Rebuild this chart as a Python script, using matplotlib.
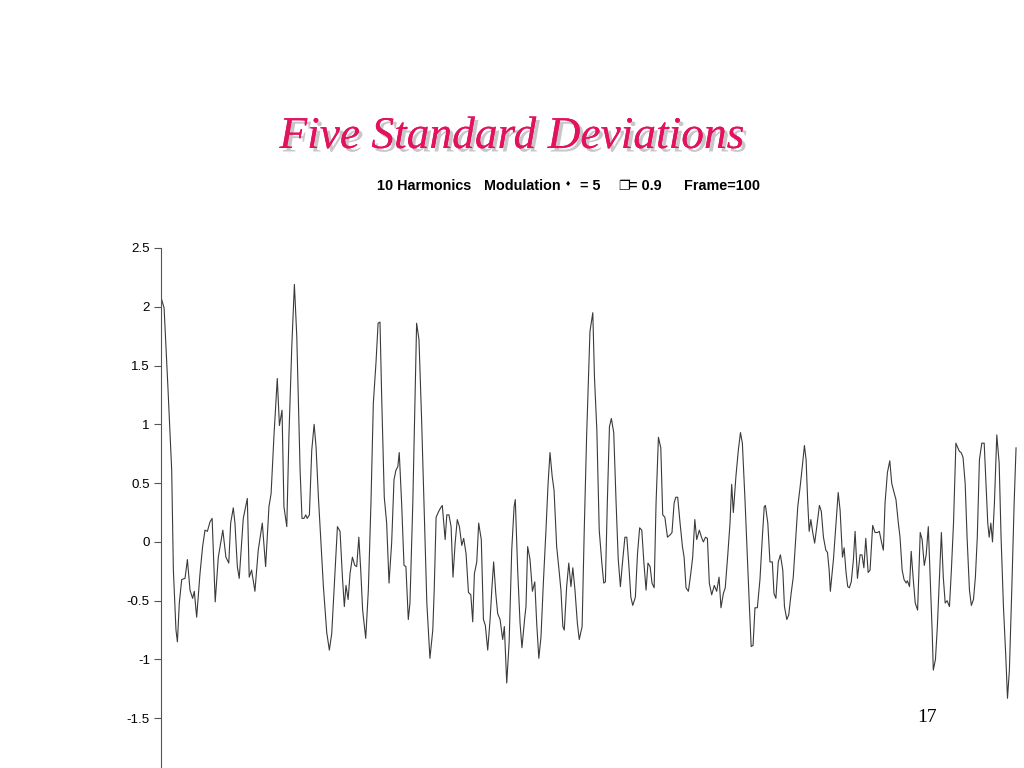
import matplotlib
matplotlib.use("Agg")
import matplotlib.pyplot as plt
import matplotlib.patheffects as pe

# sample positions (sample index) and signal values
t = [0.3, 1.3, 2.9, 4.5, 5.2, 6.3, 6.9, 7.7, 8.7, 10.1, 11.1, 12.2, 13.3, 14.0, 15.0,
     16.4, 17.5, 18.5, 19.5, 20.6, 21.5, 22.8, 24.1, 26.0, 27.3, 28.5, 29.3, 30.4, 31.1,
     32.1, 32.9, 34.6, 36.3, 37.1, 38.1, 39.5, 40.9, 42.6, 44.0, 45.4, 46.3, 47.5, 48.9,
     49.8, 50.9, 51.7, 52.9, 53.8, 55.0, 56.1, 57.1, 58.5, 59.3, 60.1, 60.9, 61.5, 62.4,
     63.4, 64.4, 65.2, 66.2,
     66.9, 68.3, 69.7, 70.8, 71.8, 73.2, 74.2, 75.3, 76.3, 77.1, 77.8, 78.7, 79.5, 80.5,
     81.5, 82.3, 83.2, 84.0, 84.8, 86.1, 87.2, 88.3, 89.3, 90.4, 91.3, 92.1, 92.8, 93.9,
     94.9, 95.9, 97.0, 98.0, 98.8, 99.6, 100.2, 101.2, 102.2, 103.0, 104.0, 104.7, 105.9,
     106.8, 107.5, 108.5, 109.6, 110.6, 111.8, 113.1, 114.3, 114.9, 115.7, 116.8, 117.6,
     118.3, 119.5, 120.2, 121.1, 122.0, 122.8, 123.7, 124.6, 125.5, 126.5, 127.3, 128.3,
     129.3, 130.3, 131.1, 131.8, 132.8, 133.6, 134.7, 135.6, 136.4, 137.4, 138.4, 139.2,
     139.9, 140.8, 141.6, 142.6,
     143.7, 144.4, 145.4, 146.4, 147.5, 148.5, 149.0, 150.0, 151.0, 151.8, 153.0, 153.5,
     154.2, 155.2, 156.2, 157.2, 158.0, 158.9, 159.8, 160.8, 161.9, 162.8, 163.6, 164.5,
     165.3, 166.4, 167.4, 168.2, 169.0, 169.6, 170.6, 171.5, 172.4, 173.2, 174.1, 175.1,
     175.9, 177.1, 178.0, 179.0, 180.4, 181.6, 182.3, 183.3, 184.3, 185.4, 186.2, 186.9,
     187.7, 188.6, 189.4, 190.4, 191.4, 192.3, 193.2, 194.2, 195.1, 195.9, 196.7, 197.6,
     198.4, 199.5, 200.4, 201.3, 202.2, 203.1, 204.0, 204.8, 205.7, 206.5, 207.4, 208.2,
     209.2, 210.2, 211.0, 211.9, 213.0, 214.1, 214.9, 215.8, 216.5, 217.3, 218.3, 219.3,
     220.0, 220.8, 221.8, 222.8, 223.6, 224.5, 225.3, 226.4, 227.3, 228.1, 229.0, 229.8,
     230.6, 231.6, 232.7, 233.7, 234.7, 235.5, 236.5, 237.3, 238.4, 239.3, 240.0, 240.7,
     241.8, 242.8, 243.7, 244.5, 245.6, 246.6, 247.4, 248.2, 249.0, 249.8, 250.8, 251.9,
     252.9, 253.7, 254.2, 255.2, 256.1, 257.1, 257.8, 258.6, 259.6, 260.5, 261.5, 262.2,
     263.2, 264.0, 265.0, 265.9, 266.9, 267.8, 268.8, 269.7, 270.6, 271.3, 272.0, 272.6,
     273.3, 274.1, 274.9, 275.8, 276.9, 277.7, 278.6, 279.6, 280.3, 281.0, 281.5, 282.8,
     283.9, 284.8, 285.6, 286.6, 287.3, 288.1, 288.8, 289.5, 290.3, 291.2, 291.9, 292.9,
     294.0, 294.8, 295.6, 296.4, 297.4, 298.2, 299.3, 300.3, 301.3, 302.1, 303.1, 303.8,
     304.5, 305.5, 306.5, 307.3, 308.3, 309.1, 310.1, 310.8, 311.7, 312.5, 313.4, 313.9,
     314.8, 315.5, 316.3, 317.2, 318.2, 319.3, 320.1, 321.0, 321.8, 322.7, 323.5, 324.3,
     324.8, 325.7, 326.5, 327.4, 328.2, 329.0, 329.8, 330.6, 331.6, 332.4, 333.3, 334.3,
     334.9, 335.8, 336.5, 337.3, 338.2, 339.0, 340.0, 340.8, 341.7, 342.5, 343.3, 344.2,
     345.2, 346.2, 347.0, 347.7, 348.3, 349.0, 349.7, 350.5, 351.5, 352.5, 353.3, 354.3,
     355.3, 356.0, 356.8, 357.8, 358.8, 359.6]

signal = [2.06, 1.99, 1.32, 0.61, -0.24, -0.75, -0.85, -0.52, -0.32, -0.31, -0.15, -0.41,
          -0.48, -0.42, -0.64, -0.27, -0.04, 0.10, 0.09, 0.17, 0.20, -0.51, -0.13, 0.10,
          -0.13, -0.18, 0.16, 0.29, 0.16, -0.21, -0.31, 0.20, 0.37, -0.30, -0.24, -0.42,
          -0.07, 0.16, -0.21, 0.30, 0.41, 0.90, 1.39, 0.99, 1.12, 0.30, 0.13, 0.90, 1.66,
          2.19, 1.75, 0.61, 0.20, 0.20, 0.23, 0.20, 0.23, 0.78, 1.00, 0.81, 0.38,
          0.13, -0.38, -0.77, -0.92, -0.78, -0.24, 0.13, 0.09, -0.30, -0.55, -0.37, -0.49,
          -0.27, -0.13, -0.20, -0.21, 0.04, -0.24, -0.58, -0.82, -0.41, 0.33, 1.18, 1.52,
          1.86, 1.87, 1.24, 0.38, 0.16, -0.35, -0.01, 0.53, 0.61, 0.64, 0.76, 0.33, -0.20,
          -0.21, -0.66, -0.52, 0.33, 1.18, 1.86, 1.72, 1.04, 0.33, -0.52, -0.99, -0.75,
          -0.41, 0.21, 0.26, 0.29, 0.31, 0.02, 0.23, 0.23, 0.13, -0.30, -0.01, 0.19, 0.13,
          -0.03, 0.03, -0.10, -0.43, -0.45, -0.68, -0.27, -0.17, 0.16, 0.02, -0.66, -0.71,
          -0.92, -0.66, -0.38, -0.17, -0.44, -0.61, -0.66,
          -0.83, -0.72, -1.20, -0.86, -0.07, 0.30, 0.36, -0.24, -0.69, -0.90, -0.64, -0.55,
          -0.04, -0.15, -0.42, -0.34, -0.69, -0.99, -0.81, -0.35, 0.10, 0.50, 0.76, 0.56,
          0.44, -0.04, -0.24, -0.41, -0.72, -0.75, -0.38, -0.18, -0.38, -0.22, -0.41, -0.69,
          -0.83, -0.72, 0.10, 0.90, 1.79, 1.95, 1.40, 0.95, 0.10, -0.18, -0.35, -0.34,
          0.33, 0.98, 1.05, 0.93, 0.33, -0.15, -0.38, -0.15, 0.04, 0.04, -0.18, -0.47,
          -0.54, -0.47, -0.10, 0.12, 0.10, -0.18, -0.41, -0.18, -0.21, -0.35, -0.39, 0.33,
          0.89, 0.80, 0.23, 0.21, 0.04, 0.06, 0.08, 0.33, 0.38, 0.38, 0.16, -0.04,
          -0.13, -0.39, -0.42, -0.27, -0.13, 0.19, 0.02, 0.10, 0.04, 0.00, 0.04, 0.03,
          -0.35, -0.45, -0.37, -0.42, -0.30, -0.56, -0.44, -0.39, -0.10, 0.16, 0.49, 0.25,
          0.56, 0.78, 0.93, 0.84, 0.36, -0.13, -0.52, -0.89, -0.88, -0.56, -0.56, -0.32,
          0.04, 0.30, 0.31, 0.16, -0.17, -0.17, -0.44, -0.48, -0.17, -0.11, -0.24, -0.55,
          -0.66, -0.62, -0.44, -0.30, 0.02, 0.30, 0.47, 0.64, 0.82, 0.70, 0.33, 0.09,
          0.19, 0.08, -0.01, 0.13, 0.31, 0.26, 0.04, -0.07, -0.09, -0.24, -0.42, -0.15,
          0.16, 0.42, 0.27, -0.13, -0.05, -0.26, -0.38, -0.39, -0.34, -0.15, 0.09, -0.31,
          -0.11, -0.11, -0.22, 0.03, -0.26, -0.24, 0.14, 0.08, 0.08, 0.09, -0.01, -0.07,
          0.33, 0.59, 0.69, 0.50, 0.42, 0.36, 0.16, 0.04, -0.24, -0.32, -0.35, -0.33,
          -0.38, -0.08, -0.30, -0.52, -0.58, 0.08, 0.02, -0.20, -0.11, 0.13, -0.30, -0.75,
          -1.09, -1.00, -0.72, -0.30, 0.08, -0.30, -0.52, -0.50, -0.55, -0.24, 0.16, 0.84,
          0.81, 0.77, 0.76, 0.72, 0.50, 0.04, -0.41, -0.54, -0.49, -0.30, 0.04, 0.70,
          0.84, 0.84, 0.47, 0.16, 0.04, 0.16, 0.00, 0.33, 0.91, 0.67, 0.04, -0.55,
          -0.98, -1.33, -1.09, -0.41, 0.33, 0.80]

yticks = [-1.5, -1, -0.5, 0, 0.5, 1, 1.5, 2, 2.5]
yticklabels = ["-1.5", "-1", "-0.5", "0", "0.5", "1", "1.5", "2", "2.5"]

title = "Five Standard Deviations"
subtitle_parts = ["10 Harmonics", "Modulation", "= 5", "= 0.9", "Frame=100"]
symbol_diamond = "\u2666"
symbol_box = "\u2750"
page = "17"

fig = plt.figure(figsize=(10.24, 7.68), dpi=100)
fig.patch.set_facecolor("white")

ax = fig.add_axes([161 / 1024, 0.0, (1017 - 161) / 1024, 1 - 248 / 768])
ax.plot(t, signal, color="#3a3a3a", linewidth=0.8)
ax.set_xlim(0, 360)
ax.set_ylim(-1.923, 2.5)
ax.set_yticks(yticks)
ax.set_yticklabels(yticklabels, fontfamily="Liberation Sans", fontsize=9.6)
ax.set_xticks([])
for s in ["top", "right", "bottom"]:
    ax.spines[s].set_visible(False)
ax.spines["left"].set_color("#555555")
ax.spines["left"].set_linewidth(0.8)
ax.tick_params(axis="y", direction="out", length=5, width=0.8, color="#555555", pad=3)

fig.text(0.5, 1 - 137 / 768, title, ha="center", va="center",
         fontfamily="Liberation Serif", fontstyle="italic", fontsize=32.7,
         color="#E3125E",
         path_effects=[pe.withSimplePatchShadow(offset=(2.5, -2.5), shadow_rgbFace="#b0b0b0", alpha=0.7),
                       pe.Normal()])

ys = 1 - 186 / 768
sub_kw = dict(va="center", ha="left", fontfamily="Liberation Sans", fontweight="bold",
              fontsize=10.4, color="black")
fig.text(377 / 1024, ys, subtitle_parts[0], **sub_kw)
fig.text(484 / 1024, ys, subtitle_parts[1], **sub_kw)
fig.text(568 / 1024, 1 - 184 / 768, symbol_diamond, ha="center", va="center",
         fontfamily="DejaVu Sans", fontsize=5, color="black")
fig.text(580 / 1024, ys, subtitle_parts[2], **sub_kw)
fig.text(618 / 1024, 1 - 186 / 768, symbol_box, ha="left", va="center",
         fontfamily="DejaVu Sans", fontsize=9.5, color="black")
fig.text(629 / 1024, ys, subtitle_parts[3], **sub_kw)
fig.text(684 / 1024, ys, subtitle_parts[4], **sub_kw)

fig.text(927 / 1024, 1 - 718 / 768, page, ha="center", va="center",
         fontfamily="Liberation Serif", fontsize=14, color="black")

fig.savefig("out.png", dpi=100)
